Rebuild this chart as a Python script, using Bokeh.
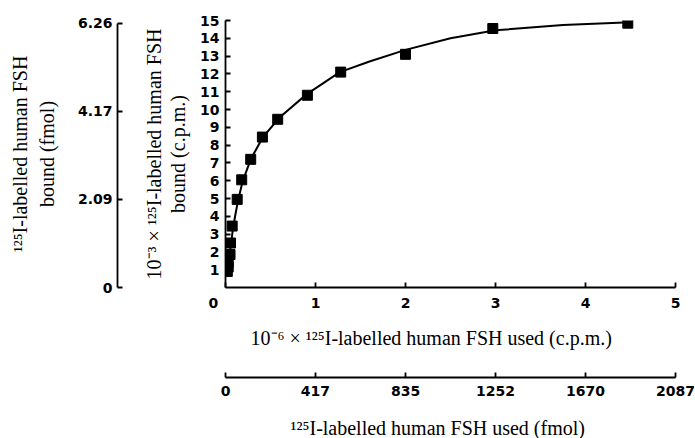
import math
from bokeh.plotting import figure
from bokeh.models import (Range1d, LinearAxis, FixedTicker, Title)
from bokeh.embed import file_html
from bokeh.resources import INLINE

# ---- data ----
used_cpm = [0.02, 0.03, 0.03, 0.05, 0.056, 0.074, 0.13, 0.18, 0.28, 0.41, 0.58, 0.91, 1.28, 2.0, 2.97, 4.47]
bound_cpm = [0.9, 1.15, 1.4, 1.85, 2.5, 3.45, 4.95, 6.05, 7.2, 8.45, 9.45, 10.8, 12.1, 13.1, 14.55, 14.85]

curve_x = [0.02, 0.04, 0.06, 0.08, 0.11, 0.14, 0.19, 0.28, 0.41, 0.6, 0.9, 1.27, 1.6, 2.0, 2.5, 3.0, 3.75, 4.5]
curve_y = [0.9, 1.6, 2.4, 3.2, 4.1, 4.9, 5.95, 7.2, 8.4, 9.55, 10.85, 12.1, 12.7, 13.35, 14.0, 14.45, 14.75, 14.9]

x_ticks = [0, 1, 2, 3, 4, 5]
y_ticks = list(range(1, 16))
fmol_bound_ticks = [0, 2.09, 4.17, 6.26]
fmol_used_ticks = [0, 417, 835, 1252, 1670, 2087]

x_title = "10\u207b\u2076 \u00d7 \u00b9\u00b2\u2075I-labelled human FSH used (c.p.m.)"
x2_title = "\u00b9\u00b2\u2075I-labelled human FSH used (fmol)"
y_title_1 = "10\u207b\u00b3 \u00d7 \u00b9\u00b2\u2075I-labelled human FSH"
y_title_2 = "bound (c.p.m.)"
y2_title_1 = "\u00b9\u00b2\u2075I-labelled human FSH"
y2_title_2 = "bound (fmol)"

TICK_FONT = "DejaVu Sans"
TITLE_FONT = "Liberation Serif"

p = figure(frame_width=450, frame_height=267,
           x_range=Range1d(0, 5), y_range=Range1d(0, 15),
           min_border_left=225, min_border_top=20, min_border_right=20, min_border_bottom=151,
           output_backend="svg", toolbar_location=None)
p.outline_line_color = None
p.grid.visible = False
p.background_fill_color = "white"
p.border_fill_color = "white"

p.extra_y_ranges = {"fmol": Range1d(0, 6.32)}
p.extra_x_ranges = {"fmolx": Range1d(0, 2087)}

def style_axis(ax, standoff):
    ax.axis_line_color = "black"
    ax.axis_line_width = 1.8
    ax.major_tick_line_color = "black"
    ax.major_tick_line_width = 1.8
    ax.major_tick_in = 5
    ax.major_tick_out = 0
    ax.minor_tick_line_color = None
    ax.major_label_text_font = TICK_FONT
    ax.major_label_text_font_style = "bold"
    ax.major_label_text_font_size = "14px"
    ax.major_label_text_color = "black"
    ax.major_label_standoff = standoff

def spacer(size):
    ax = LinearAxis(ticker=FixedTicker(ticks=[]))
    ax.axis_line_color = None
    ax.major_tick_line_color = None
    ax.minor_tick_line_color = None
    ax.major_label_standoff = 0
    ax.axis_label = " "
    ax.axis_label_text_font_size = "1px"
    ax.axis_label_standoff = size
    return ax

def title(text, standoff, align="center", offset=0):
    return Title(text=text, align=align, offset=offset, standoff=standoff,
                 text_font=TITLE_FONT, text_font_size="20px",
                 text_font_style="normal", text_color="black")

# main axes
xa = p.xaxis[0]
xa.ticker = FixedTicker(ticks=x_ticks)
xa.major_label_overrides = {0: "0" + "\u00a0" * 5}
style_axis(xa, 7)

ya = p.yaxis[0]
ya.ticker = FixedTicker(ticks=y_ticks)
style_axis(ya, 6)

# left side: main title (2 lines), spacer, fmol axis, fmol title (2 lines)
p.add_layout(title(y_title_2, 17), "left")
p.add_layout(title(y_title_1, -17), "left")
p.add_layout(spacer(28), "left")
fa = LinearAxis(y_range_name="fmol", ticker=FixedTicker(ticks=fmol_bound_ticks),
                bounds=(0, 6.26))
fa.major_label_overrides = {t: ("0" if t == 0 else f"{t:.2f}") for t in fmol_bound_ticks}
style_axis(fa, 5)
p.add_layout(fa, "left")
p.add_layout(title(y2_title_2, 34), "left")
p.add_layout(title(y2_title_1, -29), "left")

# bottom: main title, spacer, fmol axis, fmol title
p.add_layout(title(x_title, 23, "left", 25), "below")
p.add_layout(spacer(13), "below")
fb = LinearAxis(x_range_name="fmolx", ticker=FixedTicker(ticks=fmol_used_ticks))
fb.major_label_overrides = {t: str(t) for t in fmol_used_ticks}
style_axis(fb, 8)
p.add_layout(fb, "below")
p.add_layout(title(x2_title, 33, "left", 65), "below")

# curve and points
p.line(curve_x, curve_y, line_color="black", line_width=2)
p.scatter(used_cpm, bound_cpm, marker="square", size=10, fill_color="black", line_color="black")

open("out.html", "w").write(file_html(p, INLINE))
